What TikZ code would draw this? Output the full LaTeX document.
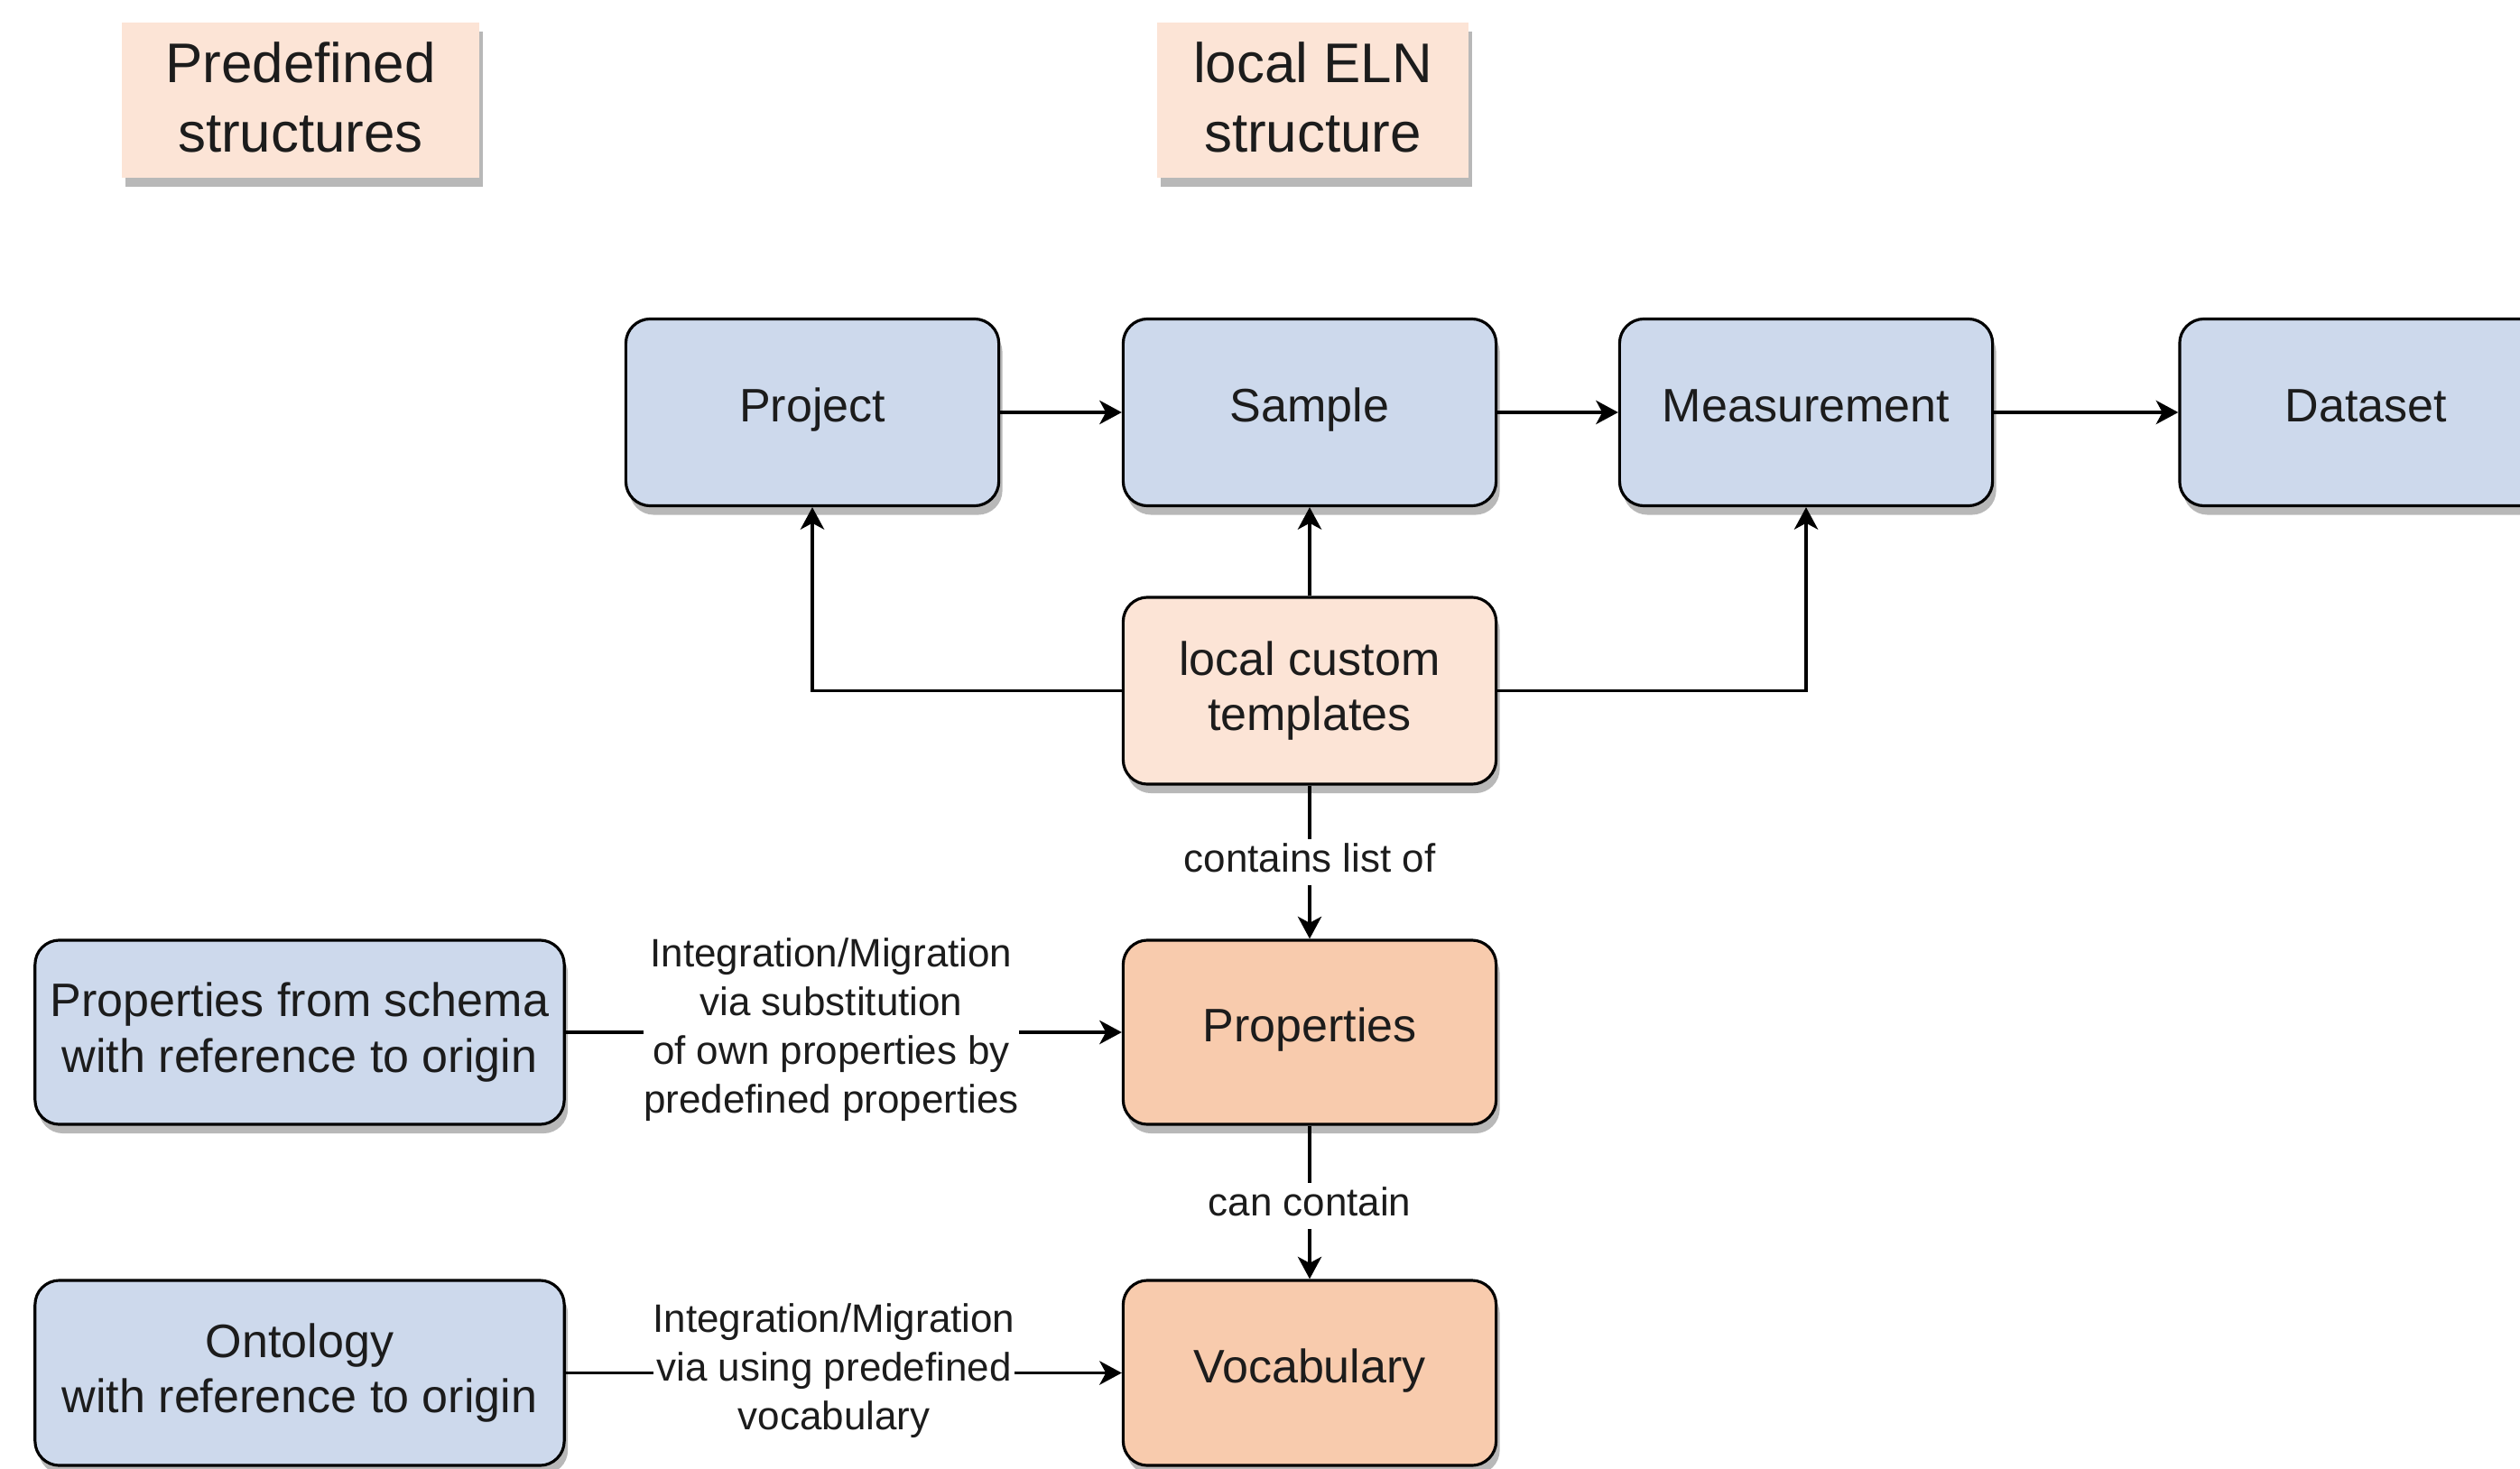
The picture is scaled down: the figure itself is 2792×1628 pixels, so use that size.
\documentclass[tikz,border=0pt]{standalone}
\usepackage{fontspec}
\setmainfont{Liberation Sans}
\usetikzlibrary{arrows.meta,shadows}
\definecolor{boxblue}{RGB}{205,217,236}
\definecolor{peach}{RGB}{252,228,214}
\definecolor{orangebox}{RGB}{248,203,173}
\definecolor{txt}{RGB}{28,28,28}
\newcommand{\boxfont}{\fontsize{14.8}{17.4}\selectfont}
\newcommand{\lblfont}{\fontsize{12.5}{15.4}\selectfont}
\newcommand{\ttlfont}{\fontsize{17.6}{21.8}\selectfont}
\begin{document}
\begin{tikzpicture}[x=0.01cm,y=-0.01cm,
  shadowed/.style={drop shadow={shadow xshift=0.04cm,shadow yshift=-0.1cm,fill=black!28,opacity=1}},
  box/.style={shadowed,draw=black,line width=0.9pt,rounded corners=0.27cm,
    minimum width=4.13cm,minimum height=2.07cm,inner sep=2pt,align=center,
    font=\boxfont,text=txt},
  oneline/.style={text height=0.72em,text depth=0.12em},
  bluebox/.style={box,fill=boxblue},
  peachbox/.style={box,fill=peach},
  orabox/.style={box,fill=orangebox},
  wide/.style={minimum width=5.86cm,minimum height=2.04cm},
  titlebox/.style={shadowed,fill=peach,minimum height=1.72cm,inner sep=0pt,
    align=center,font=\ttlfont,text=txt,text depth=0.18em},
  lbl/.style={fill=white,inner sep=0pt,align=center,font=\lblfont,text=txt},
  lblone/.style={lbl,text height=9pt,text depth=2.5pt,inner ysep=1.5pt},
  arr/.style={draw=black,line width=0.9pt,-{Stealth[length=7pt,width=7.5pt,inset=2pt]}},
  ln/.style={draw=black,line width=0.9pt}
]
\useasboundingbox (0,0) rectangle (2792,1628);
\clip (0,0) rectangle (2792,1628);

% titles
\node[titlebox,minimum width=3.96cm] (tpre) at (333,111) {Predefined\\structures};
\node[titlebox,minimum width=3.45cm] (tloc) at (1454.5,111) {local ELN\\structure};

% top row
\node[bluebox,oneline] (proj) at (900,457) {Project};
\node[bluebox,oneline] (samp) at (1451,457) {Sample};
\node[bluebox,oneline] (meas) at (2001,457) {Measurement};
\node[bluebox,oneline] (data) at (2621.5,457) {Dataset};

% middle column
\node[peachbox] (tpl) at (1451,765.5) {local custom\\templates};
\node[orabox,oneline,minimum height=2.04cm] (props) at (1451,1144) {Properties};
\node[orabox,oneline,minimum height=2.05cm] (voc) at (1451,1521.5) {Vocabulary};

% left column
\node[bluebox,wide] (schema) at (332,1144) {Properties from schema\\with reference to origin};
\node[bluebox,wide,minimum height=2.05cm] (onto) at (332,1521.5) {Ontology\\with reference to origin};

% connectors
\draw[arr] (proj.east) -- (samp.west);
\draw[arr] (samp.east) -- (meas.west);
\draw[arr] (meas.east) -- (data.west);
\draw[arr] (tpl.north) -- (samp.south);
\draw[arr] (tpl.west) -| (proj.south);
\draw[arr] (tpl.east) -| (meas.south);
\draw[arr] (tpl.south) -- node[lblone] (l1) {contains list of} (props.north);
\draw[arr] (props.south) -- node[lblone,yshift=-1pt] (l2) {can contain} (voc.north);
\draw[arr] (schema.east) -- (props.west);
\draw[arr] (onto.east) -- (voc.west);

% connector labels
\node[lbl] (l3) at (921,1141) {Integration/Migration\\via substitution\\of own properties by\\predefined properties};
\node[lbl] (l4) at (924,1519) {Integration/Migration\\via using predefined\\vocabulary};
\end{tikzpicture}
\end{document}
